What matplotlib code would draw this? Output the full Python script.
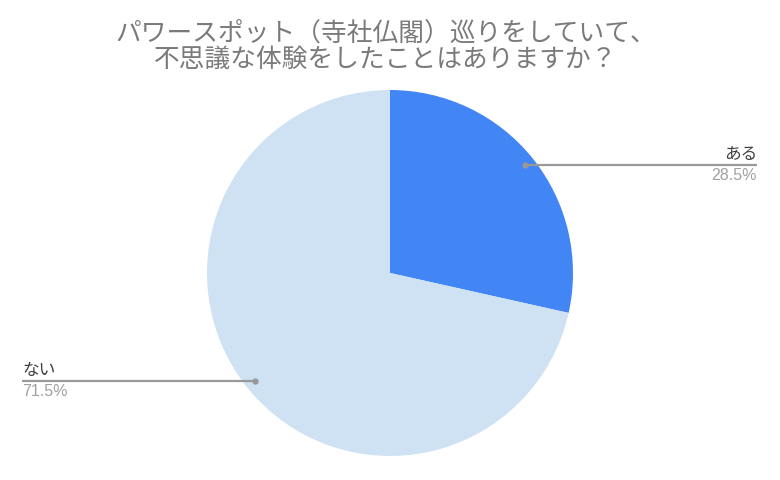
import matplotlib.pyplot as plt
import numpy as np

plt.rcParams['font.family'] = ['Noto Sans CJK JP', 'DejaVu Sans']

labels = ['ある', 'ない']
values = [28.5, 71.5]
colors = ['#4285F4', '#CFE2F3']
title = 'パワースポット（寺社仏閣）巡りをしていて、\n不思議な体験をしたことはありますか？'

W, H = 780, 481
fig = plt.figure(figsize=(W / 100, H / 100), dpi=100)
ax = fig.add_axes([0, 0, 1, 1])

cx, cy, r = 390, H - 274, 183
wedges, _ = ax.pie(values, colors=colors, startangle=90, counterclock=False,
                   center=(cx, cy), radius=r, frame=True)
ax.set_xlim(0, W)
ax.set_ylim(0, H)
ax.set_aspect('equal')
ax.axis('off')

# leader lines and labels
for w, lab, v in zip(wedges, labels, values):
    ang = np.deg2rad((w.theta1 + w.theta2) / 2)
    px = cx + 0.945 * r * np.cos(ang)
    py = cy + 0.945 * r * np.sin(ang)
    if np.cos(ang) > 0:
        ex, ha = 757, 'right'
    else:
        ex, ha = 22, 'left'
    ax.plot([px, ex], [py, py], color='#999999', lw=1.6, solid_capstyle='butt')
    ax.plot(px, py, 'o', color='#999999', ms=3.5)
    ax.text(ex, py + 3, lab, ha=ha, va='bottom', fontsize=12, color='#3c3c3c')
    ax.text(ex, py - 2, f'{v:.1f}%', ha=ha, va='top', fontsize=11.5,
            color='#a0a0a0', family=['Liberation Sans', 'DejaVu Sans'])

fig.text(386 / W, 1 - 47 / H, title, ha='center', va='center', fontsize=18.5,
         color='#7a7a7a', linespacing=1.0)

fig.savefig('out.png', dpi=100, facecolor='white')
